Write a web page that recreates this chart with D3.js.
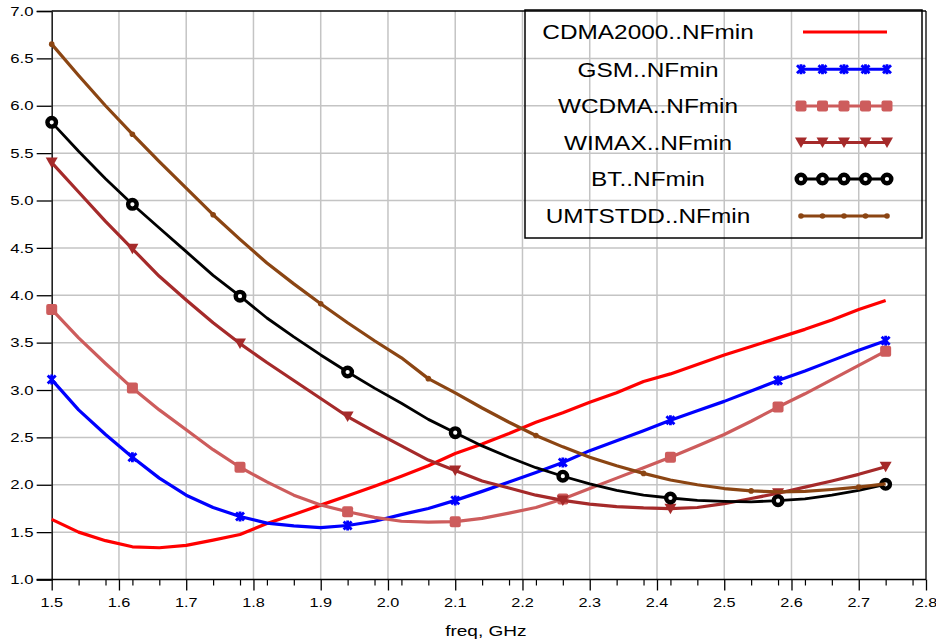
<!DOCTYPE html>
<html><head><meta charset="utf-8">
<script src="https://cdn.jsdelivr.net/npm/d3@7"></script>
<style>
body{margin:0;background:#fff;}
svg{display:block;}
text{font-family:"Liberation Sans",Arial,Helvetica,sans-serif;fill:#000;}
</style>
</head><body>
<svg id="chart" width="936" height="643"></svg>
<script>
// ---------- data ----------
const freq = [1.50,1.54,1.58,1.62,1.66,1.70,1.74,1.78,1.82,1.86,1.90,1.94,1.98,2.02,2.06,2.10,
              2.14,2.18,2.22,2.26,2.30,2.34,2.38,2.42,2.46,2.50,2.54,2.58,2.62,2.66,2.70,2.74];
const cdma2000 = [1.635,1.50,1.41,1.345,1.335,1.36,1.415,1.475,1.59,1.685,1.785,1.885,1.985,2.09,2.20,2.33,
                  2.43,2.54,2.66,2.76,2.87,2.97,3.09,3.17,3.27,3.37,3.46,3.55,3.64,3.74,3.85,3.945];
const gsm = [3.11,2.79,2.53,2.29,2.07,1.89,1.76,1.665,1.595,1.565,1.548,1.57,1.615,1.685,1.75,1.835,
             1.93,2.03,2.13,2.235,2.36,2.465,2.57,2.68,2.78,2.88,2.99,3.10,3.20,3.31,3.42,3.52];
const wcdma = [3.85,3.55,3.28,3.02,2.79,2.58,2.37,2.185,2.03,1.89,1.786,1.715,1.655,1.615,1.605,1.61,
               1.645,1.70,1.76,1.85,1.96,2.07,2.18,2.29,2.41,2.53,2.67,2.82,2.96,3.11,3.26,3.41];
const wimax = [5.40,5.09,4.78,4.49,4.20,3.95,3.71,3.49,3.29,3.10,2.91,2.72,2.56,2.41,2.26,2.15,
               2.04,1.965,1.89,1.835,1.795,1.77,1.755,1.748,1.76,1.80,1.855,1.91,1.975,2.04,2.11,2.19];
const bt = [5.825,5.52,5.23,4.96,4.71,4.46,4.21,3.99,3.76,3.56,3.37,3.19,3.02,2.86,2.69,2.55,
            2.41,2.29,2.18,2.09,2.01,1.94,1.89,1.86,1.835,1.825,1.82,1.832,1.85,1.89,1.94,2.005];
const umtstdd = [6.65,6.32,6.00,5.70,5.41,5.13,4.85,4.59,4.34,4.12,3.91,3.71,3.52,3.34,3.12,2.97,
                 2.81,2.66,2.52,2.40,2.29,2.20,2.12,2.05,2.00,1.96,1.935,1.925,1.93,1.95,1.975,2.01];
const markA = [1.50,1.62,1.78,1.94,2.10,2.26,2.42,2.58,2.74];
const markB = [1.50,1.62,1.74,1.90,2.06,2.22,2.38,2.54,2.70];
const seriesNames = ["CDMA2000..NFmin","GSM..NFmin","WCDMA..NFmin","WIMAX..NFmin","BT..NFmin","UMTSTDD..NFmin"];
const xTicks = [1.5,1.6,1.7,1.8,1.9,2.0,2.1,2.2,2.3,2.4,2.5,2.6,2.7,2.8];
const yTicks = [1.0,1.5,2.0,2.5,3.0,3.5,4.0,4.5,5.0,5.5,6.0,6.5,7.0];
const xLabel = "freq, GHz";

// ---------- series config ----------
const series = [
  {name: seriesNames[0], vals: cdma2000, color: "#ff0000", marker: null, marks: []},
  {name: seriesNames[1], vals: gsm, color: "#0000ff", marker: "star", marks: markA},
  {name: seriesNames[2], vals: wcdma, color: "#cd5c5c", marker: "square", marks: markA},
  {name: seriesNames[3], vals: wimax, color: "#a52a2a", marker: "tri", marks: markA},
  {name: seriesNames[4], vals: bt, color: "#000000", marker: "circle", marks: markA},
  {name: seriesNames[5], vals: umtstdd, color: "#8b4513", marker: "dot", marks: markB}
];

const SX = 1.27; // horizontal text stretch
const svg = d3.select("#chart");
const L = 51.7, R = 926, T = 11, B = 579.5;
const x = d3.scaleLinear().domain([1.5, 2.8]).range([L, R]);
const y = d3.scaleLinear().domain([1, 7]).range([B, T]);

// grid
const g = svg.append("g");
g.selectAll("line.vg").data(xTicks.slice(1, -1)).join("line")
  .attr("x1", d => x(d)).attr("x2", d => x(d)).attr("y1", T).attr("y2", B)
  .attr("stroke", "#c4c4c4").attr("stroke-width", 1.5);
g.selectAll("line.hg").data(yTicks.slice(1, -1)).join("line")
  .attr("x1", L).attr("x2", R).attr("y1", d => y(d)).attr("y2", d => y(d))
  .attr("stroke", "#c4c4c4").attr("stroke-width", 1.5);

// frame
svg.append("line").attr("x1", L).attr("x2", R).attr("y1", T).attr("y2", T).attr("stroke", "#000").attr("stroke-width", 1.3);
svg.append("line").attr("x1", R).attr("x2", R).attr("y1", T).attr("y2", B).attr("stroke", "#000").attr("stroke-width", 1.3);

// y axis
const yAxis = d3.axisLeft(y).tickValues(yTicks).tickSize(15).tickFormat("");
const ya = svg.append("g").attr("transform", `translate(${L},0)`).call(yAxis);
ya.select(".domain").attr("stroke", "#222").attr("stroke-width", 1.6);
ya.selectAll(".tick line").attr("stroke", "#000").attr("stroke-width", 1.3);
svg.append("g").selectAll("text").data(yTicks).join("text")
  .attr("transform", d => `translate(33.5,${y(d) + 4.7}) scale(${SX},1)`)
  .attr("text-anchor", "end").style("font-size", "13.2px")
  .text(d => d3.format(".1f")(d));

// x axis major + minor
const minor = d3.range(75, 141, 2).map(v => v / 50).filter(v => Math.abs(v * 10 - Math.round(v * 10)) > 1e-6);
const xMinor = d3.axisBottom(x).tickValues(minor).tickSize(6).tickFormat("");
const xm = svg.append("g").attr("transform", `translate(0,${B})`).call(xMinor);
xm.select(".domain").remove();
xm.selectAll(".tick line").attr("stroke", "#000").attr("stroke-width", 1.2);
const xAxis = d3.axisBottom(x).tickValues(xTicks).tickSize(11).tickFormat("");
const xa = svg.append("g").attr("transform", `translate(0,${B})`).call(xAxis);
xa.select(".domain").remove();
xa.selectAll(".tick line").attr("stroke", "#000").attr("stroke-width", 1.3);
svg.append("line").attr("x1", L - 15).attr("x2", R).attr("y1", B).attr("y2", B).attr("stroke", "#000").attr("stroke-width", 1.6);
svg.append("g").selectAll("text").data(xTicks).join("text")
  .attr("transform", d => `translate(${x(d)},607) scale(${SX},1)`)
  .attr("text-anchor", "middle").style("font-size", "12.8px")
  .text(d => d3.format(".1f")(d));
svg.append("text").attr("transform", `translate(${(L + R) / 2 - 3},636) scale(${SX},1)`)
  .attr("text-anchor", "middle").style("font-size", "15px").text(xLabel);

// markers
function drawMarker(sel, type, color) {
  if (type === "star") {
    sel.append("path").attr("d", "M-4,-4L4,4M-4,4L4,-4M0,-5L0,5")
      .attr("stroke", color).attr("stroke-width", 2.8).attr("fill", "none");
  } else if (type === "square") {
    sel.append("rect").attr("x", -5.5).attr("y", -5.5).attr("width", 11).attr("height", 11).attr("rx", 2)
      .attr("fill", color);
  } else if (type === "tri") {
    sel.append("path").attr("d", "M-6,-5L6,-5L0,5.5Z").attr("fill", color);
  } else if (type === "circle") {
    sel.append("circle").attr("r", 4.3).attr("fill", "#fff").attr("stroke", color).attr("stroke-width", 4.4);
  } else if (type === "dot") {
    sel.append("circle").attr("r", 2.8).attr("fill", color);
  }
}

// lines
const line = d3.line().x(d => x(d[0])).y(d => y(d[1]));
series.forEach(s => {
  const pts = freq.map((f, i) => [f, s.vals[i]]);
  svg.append("path").datum(pts).attr("d", line)
    .attr("fill", "none").attr("stroke", s.color)
    .attr("stroke-width", s.marker === "circle" ? 2.8 : 3.2)
    .attr("stroke-linejoin", "round");
  if (s.marker) {
    const mp = pts.filter(p => s.marks.some(m => Math.abs(m - p[0]) < 1e-6));
    mp.forEach(p => {
      const mg = svg.append("g").attr("transform", `translate(${x(p[0])},${y(p[1])})`);
      drawMarker(mg, s.marker, s.color);
    });
  }
});

// legend
const lg = svg.append("g");
lg.append("rect").attr("x", 525).attr("y", 10).attr("width", 397).attr("height", 228)
  .attr("fill", "none").attr("stroke", "#000").attr("stroke-width", 1.5);
const rowY = [32, 69.3, 106, 142.5, 179, 216];
series.forEach((s, i) => {
  lg.append("text").attr("transform", `translate(648,${rowY[i] + 7.2}) scale(1.22,1)`)
    .attr("text-anchor", "middle").style("font-size", "20px").text(s.name);
  lg.append("line").attr("x1", s.marker ? 801 : 803).attr("x2", 887).attr("y1", rowY[i]).attr("y2", rowY[i])
    .attr("stroke", s.color).attr("stroke-width", 3);
  if (s.marker) {
    [801, 822.5, 844, 865.5, 887].forEach(mx => {
      const mg = lg.append("g").attr("transform", `translate(${mx},${rowY[i]})`);
      drawMarker(mg, s.marker, s.color);
    });
  }
});
</script>
</body></html>
